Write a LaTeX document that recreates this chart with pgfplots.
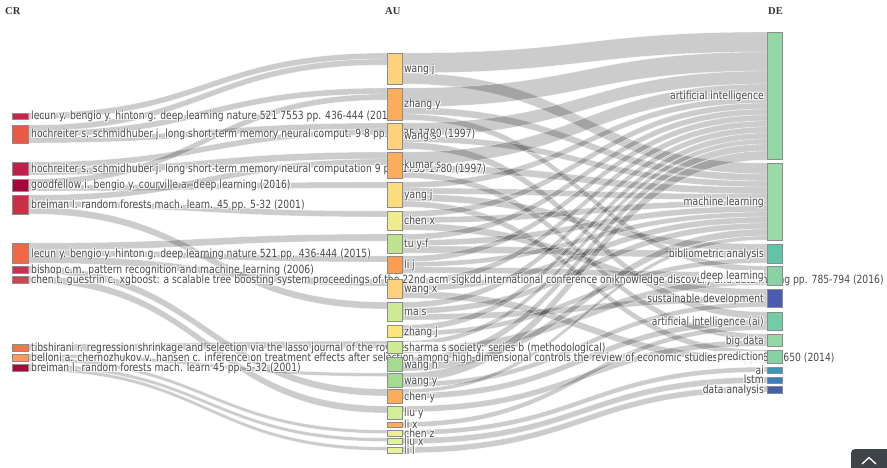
\documentclass[border=0pt]{standalone}
\usepackage{fontspec}
\setmainfont{DejaVu Sans}[FakeStretch=0.815]
\newfontfamily\hdrfont{Liberation Serif}
\usepackage{pgfplots}
\pgfplotsset{compat=1.18}
\definecolor{lab}{HTML}{4A4A4A}
\definecolor{hdr}{HTML}{333333}
\definecolor{btn}{HTML}{3F4448}
% CR colours
\definecolor{cA}{HTML}{C02A4A}\definecolor{cB}{HTML}{E85A45}\definecolor{cC}{HTML}{BE2049}
\definecolor{cD}{HTML}{A3063C}\definecolor{cE}{HTML}{C83048}\definecolor{cF}{HTML}{F06848}
\definecolor{cG}{HTML}{C83050}\definecolor{cH}{HTML}{D04452}\definecolor{cI}{HTML}{F07848}
\definecolor{cJ}{HTML}{F89A58}\definecolor{cK}{HTML}{A8083C}
% AU colours
\definecolor{aYl}{HTML}{FDD27C}\definecolor{aOr}{HTML}{FBAD5B}\definecolor{aY2}{HTML}{FDDC7E}
\definecolor{aY3}{HTML}{F0EB8C}\definecolor{aG1}{HTML}{BDE48C}\definecolor{aO2}{HTML}{F99D52}
\definecolor{aG2}{HTML}{CDEA95}\definecolor{aY4}{HTML}{FCE47F}\definecolor{aG3}{HTML}{A5DA92}
\definecolor{aG4}{HTML}{D4EE98}\definecolor{aY5}{HTML}{EEEE8E}\definecolor{aG5}{HTML}{DDF29A}
\definecolor{aG6}{HTML}{E8F29A}
% DE colours
\definecolor{dA}{HTML}{94D6A4}\definecolor{dB}{HTML}{9ADAA6}\definecolor{dC}{HTML}{62C3A6}
\definecolor{dD}{HTML}{88D2A4}\definecolor{dE}{HTML}{4B5BB2}\definecolor{dF}{HTML}{74CCA6}
\definecolor{dG}{HTML}{94D6A4}\definecolor{dH}{HTML}{86D2A6}\definecolor{dI}{HTML}{3D95B8}
\definecolor{dJ}{HTML}{3A7FC0}\definecolor{dK}{HTML}{4460AA}
\newcommand\labfont{\fontsize{11.3}{13}\selectfont}
% node bar: x0 x1 ytop ybottom colour
\newcommand{\nd}[5]{\addplot[fill=#5, draw=black!45, line width=0.5pt, forget plot] coordinates {(#1,#3) (#2,#3) (#2,#4) (#1,#4)} -- cycle;}
% links: source top, source bottom, target top, target bottom
\tikzset{lk/.style={fill=black, fill opacity=0.2, draw=white, draw opacity=0.7, line width=0.4pt}}
\newcommand{\cl}[4]{\path[lk] (axis cs:28,#1) .. controls (axis cs:207.5,#1) and (axis cs:207.5,#3) .. (axis cs:387,#3) -- (axis cs:387,#4) .. controls (axis cs:207.5,#4) and (axis cs:207.5,#2) .. (axis cs:28,#2) -- cycle;}
\newcommand{\al}[4]{\path[lk] (axis cs:402,#1) .. controls (axis cs:584.5,#1) and (axis cs:584.5,#3) .. (axis cs:767,#3) -- (axis cs:767,#4) .. controls (axis cs:584.5,#4) and (axis cs:584.5,#2) .. (axis cs:402,#2) -- cycle;}
% labels with a white halo (like the text shadow of the reference): anchor, x, y(baseline), text
\newcommand{\hl}[4]{%
\node[anchor=#1,inner sep=0pt,text=white,font=\labfont,xshift=0.9pt,yshift=0.9pt] at (axis cs:#2,#3) {#4};
\node[anchor=#1,inner sep=0pt,text=white,font=\labfont,xshift=-0.9pt,yshift=0.9pt] at (axis cs:#2,#3) {#4};
\node[anchor=#1,inner sep=0pt,text=white,font=\labfont,xshift=0.9pt,yshift=-0.9pt] at (axis cs:#2,#3) {#4};
\node[anchor=#1,inner sep=0pt,text=white,font=\labfont,xshift=-0.9pt,yshift=-0.9pt] at (axis cs:#2,#3) {#4};
\node[anchor=#1,inner sep=0pt,text=lab,font=\labfont] at (axis cs:#2,#3) {#4};}
% same on a faint white ground (hides the text beneath)
\newcommand{\hw}[4]{\node[anchor=#1,inner sep=0.6pt,font=\labfont,fill=white,fill opacity=0.85,text opacity=0] at (axis cs:#2,#3) {#4};\hl{#1}{#2}{#3}{#4}}
\newcommand{\hd}[2]{\node[anchor=base west,inner sep=0pt,text=hdr,font=\hdrfont\bfseries\fontsize{10.5}{12}\selectfont] at (axis cs:#1,15) {#2};}
\begin{document}
\begin{tikzpicture}
\begin{axis}[width=887pt,height=468pt,scale only axis,xmin=0,xmax=887,ymin=0,ymax=468,
  y dir=reverse,axis lines=none,clip=false]
\fill[white] (axis cs:0,0) rectangle (axis cs:887,468);
% ---------------- links CR -> AU ----------------
\cl{113}{119}{53}{59}
\cl{125}{131}{59}{65}
\cl{131}{137}{88}{94}
\cl{137}{143}{123}{129}
\cl{162}{168}{129}{135}
\cl{168}{175}{152}{159}
\cl{179}{185}{94}{100}
\cl{185}{191}{182}{188}
\cl{195}{201}{159}{165}
\cl{201}{207}{211}{217}
\cl{207}{214}{302}{309}
\cl{243}{250}{234}{241}
\cl{250}{256}{256}{262}
\cl{256}{263}{279}{286}
\cl{266}{273}{389}{396}
\cl{276}{283}{406}{413}
\cl{344}{351}{341}{348}
\cl{354}{357.5}{373}{376.5}
\cl{357.5}{361}{430}{433.5}
\cl{364}{367.5}{438}{441.5}
\cl{367.5}{371}{447}{450.5}
% ---------------- links AU -> DE ----------------
\al{53}{73}{32}{52}
\al{73}{84}{163}{174}
\al{88}{107}{52}{71}
\al{107}{114}{174}{181}
\al{114}{120}{266}{272}
\al{123}{136}{71}{84}
\al{136}{142}{181}{187}
\al{142}{149}{312}{319}
\al{152}{165}{84}{97}
\al{165}{172}{187}{194}
\al{172}{178}{334}{340}
\al{182}{188}{97}{103}
\al{188}{194}{194}{200}
\al{194}{201}{244}{251}
\al{201}{207}{350}{356}
\al{211}{217}{103}{109}
\al{217}{223}{200}{206}
\al{223}{230}{289}{296}
\al{234}{240}{109}{115}
\al{240}{246}{206}{212}
\al{246}{253}{251}{258}
\al{256}{262}{115}{121}
\al{262}{267}{212}{217}
\al{267}{273}{272}{278}
\al{279}{285}{121}{127}
\al{285}{291}{217}{223}
\al{291}{298}{356}{363}
\al{302}{308}{127}{133}
\al{308}{314}{223}{229}
\al{314}{320}{296}{302}
\al{325}{331}{133}{139}
\al{331}{336}{258}{263}
\al{341}{346}{139}{144}
\al{346}{353}{278}{285}
\al{357}{364}{144}{151}
\al{364}{371}{229}{236}
\al{373}{382}{151}{160}
\al{382}{387}{302}{307}
\al{389}{393}{236}{240}
\al{393}{399}{319}{325}
\al{406}{412}{340}{346}
\al{422}{427}{325}{330}
\al{430}{435}{367}{372}
\al{438}{444}{377}{383}
\al{447}{453}{386}{392}
% ---------------- CR nodes + labels ----------------
\nd{12}{28}{113}{119}{cA}
\nd{12}{28}{125}{143}{cB}
\nd{12}{28}{162}{175}{cC}
\nd{12}{28}{179}{191}{cD}
\nd{12}{28}{195}{214}{cE}
\nd{12}{28}{243}{263}{cF}
\nd{12}{28}{266}{273}{cG}
\nd{12}{28}{276}{283}{cH}
\nd{12}{28}{344}{351}{cI}
\nd{12}{28}{354}{361}{cJ}
\nd{12}{28}{364}{371}{cK}
\hl{base west}{31}{120}{lecun y. bengio y. hinton g. deep learning nature 521 7553 pp. 436-444 (2015)}
\hl{base west}{31}{138}{hochreiter s. schmidhuber j. long short-term memory neural comput. 9 8 pp. 1735-1780 (1997)}
\hl{base west}{31}{172.5}{hochreiter s. schmidhuber j. long short-term memory neural computation 9 pp. 1735-1780 (1997)}
\hl{base west}{31}{189}{goodfellow i. bengio y. courville a. deep learning (2016)}
\hl{base west}{31}{208.5}{breiman l. random forests mach. learn. 45 pp. 5-32 (2001)}
\hl{base west}{31}{257}{lecun y. bengio y. hinton g. deep learning nature 521 pp. 436-444 (2015)}
\hl{base west}{31}{273.5}{bishop c.m. pattern recognition and machine learning (2006)}
\hl{base west}{31}{283.5}{chen t. guestrin c. xgboost: a scalable tree boosting system proceedings of the 22nd acm sigkdd international conference on knowledge discovery and data mining pp. 785-794 (2016)}
\hl{base west}{31}{351.5}{tibshirani r. regression shrinkage and selection via the lasso journal of the royal statistical society: series b (methodological)}
\hl{base west}{31}{361.5}{belloni a. chernozhukov v. hansen c. inference on treatment effects after selection among high-dimensional controls the review of economic studies 81 2 pp. 608-650 (2014)}
\hl{base west}{31}{371.5}{breiman l. random forests mach. learn 45 pp. 5-32 (2001)}
% ---------------- AU nodes + labels ----------------
\nd{387}{402}{53}{84}{aYl}
\nd{387}{402}{88}{120}{aOr}
\nd{387}{402}{123}{149}{aYl}
\nd{387}{402}{152}{178}{aOr}
\nd{387}{402}{182}{207}{aY2}
\nd{387}{402}{211}{230}{aY3}
\nd{387}{402}{234}{253}{aG1}
\nd{387}{402}{256}{273}{aO2}
\nd{387}{402}{279}{298}{aYl}
\nd{387}{402}{302}{321}{aG2}
\nd{387}{402}{325}{337}{aY4}
\nd{387}{402}{341}{353}{aG2}
\nd{387}{402}{357}{371}{aG3}
\nd{387}{402}{373}{387}{aG3}
\nd{387}{402}{389}{403}{aOr}
\nd{387}{402}{406}{419}{aG4}
\nd{387}{402}{422}{427}{aOr}
\nd{387}{402}{430}{436}{aY5}
\nd{387}{402}{438}{444}{aG5}
\nd{387}{402}{447}{453}{aG6}
\hl{base west}{404}{72.5}{wang j}
\hl{base west}{404}{108}{zhang y}
\hl{base west}{404}{140}{wang s}
\hl{base west}{404}{169}{kumar s}
\hl{base west}{404}{198.5}{yang j}
\hl{base west}{404}{224.5}{chen x}
\hl{base west}{404}{247.5}{tu y-f}
\hl{base west}{404}{268.5}{li j}
\hl{base west}{404}{292.5}{wang x}
\hl{base west}{404}{315.5}{ma s}
\hl{base west}{404}{335}{zhang j}
\hw{base west}{404}{351}{sharma s}
\hl{base west}{404}{368}{wang h}
\hl{base west}{404}{384}{wang y}
\hl{base west}{404}{400}{chen y}
\hl{base west}{404}{416.5}{liu y}
\hl{base west}{404}{428.5}{li x}
\hl{base west}{404}{437}{chen z}
\hl{base west}{404}{445.5}{liu x}
\hl{base west}{404}{454}{li l}
% ---------------- DE nodes + labels ----------------
\nd{767}{782}{32}{159}{dA}
\nd{767}{782}{163}{240}{dB}
\nd{767}{782}{244}{263}{dC}
\nd{767}{782}{266}{285}{dD}
\nd{767}{782}{289}{307}{dE}
\nd{767}{782}{312}{330}{dF}
\nd{767}{782}{334}{346}{dG}
\nd{767}{782}{350}{363}{dH}
\nd{767}{782}{367}{373}{dI}
\nd{767}{782}{377}{383}{dJ}
\nd{767}{782}{386}{393}{dK}
\hl{base east}{764}{99.5}{artificial intelligence}
\hl{base east}{764}{205.5}{machine learning}
\hl{base east}{764}{257.5}{bibliometric analysis}
\hw{base east}{764}{279.5}{deep learning}
\hl{base east}{764}{302}{sustainable development}
\hl{base east}{764}{325}{artificial intelligence (ai)}
\hl{base east}{764}{344}{big data}
\hw{base east}{764}{360.5}{prediction}
\hl{base east}{764}{374}{ai}
\hl{base east}{764}{383.5}{lstm}
\hl{base east}{764}{393.5}{data analysis}
% ---------------- headers ----------------
\hd{5}{CR}
\hd{385}{AU}
\hd{768}{DE}
% scroll button
\begin{scope}
\clip (axis cs:0,0) rectangle (axis cs:887,468);
\fill[btn, rounded corners=4pt] (axis cs:851,449) rectangle (axis cs:895,478);
\draw[white, line width=1.3pt] (axis cs:862,464) -- (axis cs:869,457.5) -- (axis cs:876,464);
\end{scope}
\end{axis}
\pgfresetboundingbox
\useasboundingbox (current axis.south west) rectangle (current axis.north east);
\end{tikzpicture}
\end{document}
